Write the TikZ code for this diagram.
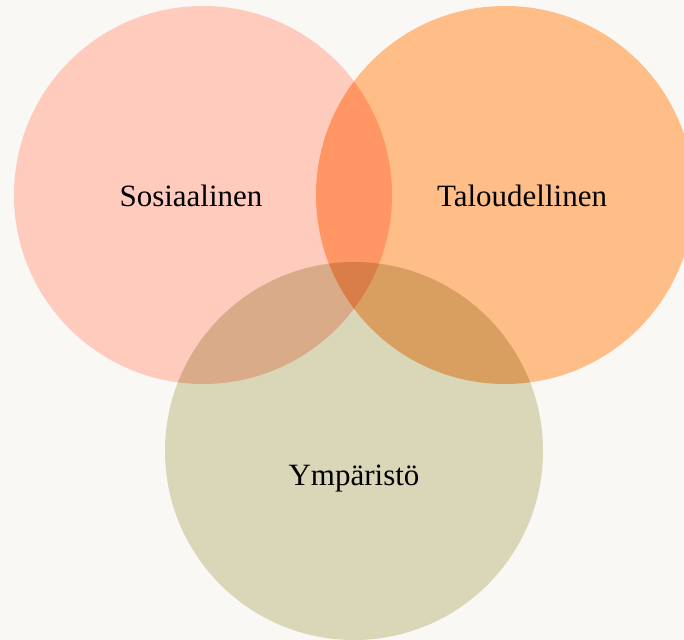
\documentclass[tikz,border=0pt]{standalone}
\usepackage{fontspec}
\setmainfont{Liberation Serif}
\usepackage{xcolor}
\usepackage{tikz}
\usetikzlibrary{positioning}

\definecolor{bgpaper}{HTML}{F9F8F5}
\definecolor{sosiaali}{HTML}{FFCBBD}
\definecolor{talous}{HTML}{FFBD87}
\definecolor{ymparisto}{HTML}{D9D7B8}

\tikzset{
  ring/.style={blend mode=multiply},
  label/.style={font=\fontsize{15.5}{18}\selectfont, text=black}
}

\begin{document}
\begin{tikzpicture}[x=0.5pt, y=-0.5pt]
\fill[bgpaper] (0,0) rectangle (684,640);
\useasboundingbox (0,0) rectangle (684,640);
\coordinate (S) at (203,195);
\coordinate (T) at (505,195);
\coordinate (Y) at (354,451);
% white underlay, then the tinted discs multiply over it
\foreach \c in {S,T,Y}
  \fill[white] (\c) circle (189);
\fill[ring, fill=sosiaali] (S) circle (189);
\fill[ring, fill=talous] (T) circle (189);
\fill[ring, fill=ymparisto] (Y) circle (189);
\node[label] (sosiaalinen) at (191,196) {Sosiaalinen};
\node[label] (taloudellinen) at (522,196) {Taloudellinen};
\node[label] (ymparisto) at (354,479) {Ympäristö};
\end{tikzpicture}
\end{document}
